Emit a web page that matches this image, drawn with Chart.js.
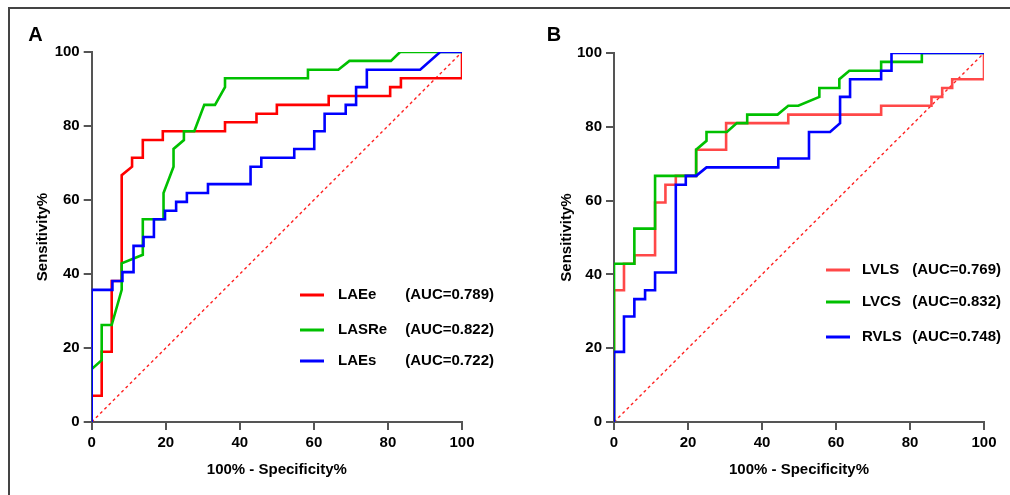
<!DOCTYPE html>
<html>
<head>
<meta charset="utf-8">
<script src="https://cdn.jsdelivr.net/npm/chart.js@4.4.1/dist/chart.umd.min.js"></script>
<style>
  body { margin: 0; background: #fff; width: 1010px; height: 495px; overflow: hidden; position: relative; }
  .frame { position: absolute; left: 8px; top: 7px; width: 1100px; height: 600px; border-top: 2px solid #444; border-left: 2px solid #444; }
  canvas { position: absolute; top: 0; }
</style>
</head>
<body>
<div class="frame"></div>
<canvas id="rocA" width="505" height="495" style="left:0"></canvas>
<canvas id="rocB" width="505" height="495" style="left:505px"></canvas>
<script>
// Panel A: left atrial markers
const laeeX  = [0, 0, 2.7, 2.7, 5.4, 5.4, 8.1, 8.1, 10.9, 10.9, 13.8, 13.8, 19.2, 19.2, 36.0, 36.0, 44.5, 44.5, 50.0, 50.0, 64.0, 64.0, 80.6, 80.6, 83.5, 83.5, 100, 100];
const laeeY  = [0, 7.1, 7.1, 19.0, 19.0, 38.1, 38.1, 66.7, 69.0, 71.4, 71.4, 76.2, 76.2, 78.6, 78.6, 81.0, 81.0, 83.3, 83.3, 85.7, 85.7, 88.1, 88.1, 90.5, 90.5, 92.9, 92.9, 100];
const lasreX = [0, 0, 2.7, 2.7, 5.4, 8.1, 8.1, 13.8, 13.8, 19.4, 19.4, 22.1, 22.1, 24.9, 24.9, 27.7, 30.4, 33.3, 36.0, 36.0, 58.4, 58.4, 66.6, 69.6, 80.8, 83.3, 100];
const lasreY = [0, 14.3, 16.7, 26.2, 26.2, 35.7, 42.9, 45.2, 54.8, 54.8, 61.9, 69.0, 73.8, 76.2, 78.6, 78.6, 85.7, 85.7, 90.5, 92.9, 92.9, 95.2, 95.2, 97.6, 97.6, 100, 100];
const laesX  = [0, 0, 5.6, 5.6, 8.3, 8.3, 11.3, 11.3, 14.0, 14.0, 16.8, 16.8, 19.8, 19.8, 22.8, 22.8, 25.7, 25.7, 31.4, 31.4, 42.9, 42.9, 45.8, 45.8, 54.7, 54.7, 60.1, 60.1, 62.9, 62.9, 68.6, 68.6, 71.4, 71.4, 74.3, 74.3, 88.7, 94.1, 100];
const laesY  = [0, 35.7, 35.7, 38.1, 38.1, 40.5, 40.5, 47.6, 47.6, 50.0, 50.0, 54.8, 54.8, 57.1, 57.1, 59.5, 59.5, 61.9, 61.9, 64.3, 64.3, 69.0, 69.0, 71.4, 71.4, 73.8, 73.8, 78.6, 78.6, 83.3, 83.3, 85.7, 85.7, 90.5, 90.5, 95.2, 95.2, 100, 100];

// Panel B: ventricular strain
const lvlsX = [0, 0, 2.7, 2.7, 5.5, 5.5, 11.1, 11.1, 13.9, 13.9, 16.7, 16.7, 22.2, 22.2, 30.3, 30.3, 47.1, 47.1, 72.2, 72.2, 85.8, 85.8, 88.7, 88.7, 91.4, 91.4, 100, 100];
const lvlsY = [0, 35.7, 35.7, 42.9, 42.9, 45.2, 45.2, 59.5, 59.5, 64.3, 64.3, 66.7, 66.7, 73.8, 73.8, 81.0, 81.0, 83.3, 83.3, 85.7, 85.7, 88.1, 88.1, 90.5, 90.5, 92.9, 92.9, 100];
const lvcsX = [0, 0, 5.5, 5.5, 11.1, 11.1, 22.2, 22.2, 25.0, 25.0, 30.5, 33.2, 36.0, 36.0, 44.2, 47.1, 49.8, 55.5, 55.5, 60.9, 60.9, 63.6, 72.2, 72.2, 83.2, 83.2, 100];
const lvcsY = [0, 42.9, 42.9, 52.4, 52.4, 66.7, 66.7, 73.8, 76.2, 78.6, 78.6, 81.0, 81.0, 83.3, 83.3, 85.7, 85.7, 88.1, 90.5, 90.5, 92.9, 95.2, 95.2, 97.6, 97.6, 100, 100];
const rvlsX = [0, 0, 2.7, 2.7, 5.5, 5.5, 8.4, 8.4, 11.1, 11.1, 16.7, 16.7, 19.4, 19.4, 22.2, 25.0, 44.4, 44.4, 52.7, 52.7, 58.4, 61.1, 61.1, 63.8, 63.8, 72.2, 72.2, 75.0, 75.0, 100];
const rvlsY = [0, 19.0, 19.0, 28.6, 28.6, 33.3, 33.3, 35.7, 35.7, 40.5, 40.5, 64.3, 64.3, 66.7, 66.7, 69.0, 69.0, 71.4, 71.4, 78.6, 78.6, 81.0, 88.1, 88.1, 92.9, 92.9, 95.2, 95.2, 100, 100];

const refX = [0, 100];
const refY = [0, 100];

const namesA = ["LAEe", "LASRe", "LAEs"];
const aucA = [0.789, 0.822, 0.722];
const namesB = ["LVLS", "LVCS", "RVLS"];
const aucB = [0.769, 0.832, 0.748];
const axisTicks = [0, 20, 40, 60, 80, 100];

const FONT = '"Liberation Sans", Arial, sans-serif';

function pts(xs, ys) {
  return xs.map((x, i) => ({ x: x, y: ys[i] }));
}

const overlay = {
  id: "overlay",
  afterDraw(chart, args, o) {
    const ctx = chart.ctx;
    ctx.save();
    ctx.fillStyle = "#000";
    ctx.textBaseline = "middle";
    ctx.textAlign = "center";
    ctx.font = "bold 20px " + FONT;
    ctx.fillText(o.letter, o.letterX, 35);
    ctx.font = "bold 15px " + FONT;
    o.names.forEach((name, i) => {
      const y = o.rows[i];
      ctx.strokeStyle = o.colors[i];
      ctx.lineWidth = 3;
      ctx.beginPath();
      ctx.moveTo(o.lineX, y);
      ctx.lineTo(o.lineX + 24, y);
      ctx.stroke();
      ctx.textAlign = "left";
      ctx.fillText(name, o.nameX, y);
      ctx.textAlign = "right";
      ctx.fillText("(AUC=" + o.auc[i].toFixed(3) + ")", o.aucRight, y);
    });
    ctx.restore();
  }
};

function axis(title, fitKey, fitVal) {
  return {
    type: "linear",
    min: 0,
    max: 100,
    afterBuildTicks: s => { s.ticks = axisTicks.map(v => ({ value: v })); },
    afterFit: s => { s[fitKey] = fitVal; },
    grid: { display: true, drawOnChartArea: false, drawTicks: true, tickLength: 8, color: "#555", lineWidth: 2 },
    border: { display: true, color: "#555", width: 2 },
    ticks: { color: "#000", padding: 4, font: { family: FONT, size: 15, weight: "bold" } },
    title: { display: true, text: title, color: "#000", padding: { top: 4, bottom: 4 }, font: { family: FONT, size: 15, weight: "bold" } }
  };
}

function makeChart(id, series, colors, cfg) {
  const datasets = series.map((s, i) => ({
    label: s.name,
    data: pts(s.x, s.y),
    borderColor: colors[i],
    borderWidth: 2.6,
    showLine: true,
    pointRadius: 0,
    tension: 0,
    order: 3 - i
  }));
  datasets.push({
    label: "reference",
    data: pts(refX, refY),
    borderColor: "#ff2020",
    borderWidth: 1.4,
    borderDash: [3, 3],
    showLine: true,
    pointRadius: 0,
    order: 5
  });
  new Chart(document.getElementById(id), {
    type: "scatter",
    data: { datasets: datasets },
    options: {
      responsive: false,
      animation: false,
      layout: { padding: cfg.padding },
      plugins: {
        legend: { display: false },
        tooltip: { enabled: false },
        overlay: {
          letter: cfg.letter, letterX: cfg.letterX,
          names: series.map(s => s.name), auc: cfg.auc, colors: colors,
          rows: cfg.rows, lineX: cfg.lineX, nameX: cfg.nameX, aucRight: cfg.aucRight
        }
      },
      scales: {
        x: axis("100% - Specificity%", "height", 61),
        y: axis("Sensitivity%", "width", cfg.yWidth)
      }
    },
    plugins: [overlay]
  });
}

makeChart("rocA",
  [
    { name: namesA[0], x: laeeX, y: laeeY },
    { name: namesA[1], x: lasreX, y: lasreY },
    { name: namesA[2], x: laesX, y: laesY }
  ],
  ["#ff0000", "#00c000", "#0000ff"],
  {
    padding: { left: 30, right: 43, top: 52, bottom: 12 },
    yWidth: 61.7,
    letter: "A", letterX: 35.5,
    auc: aucA, rows: [295, 330, 361], lineX: 300, nameX: 338, aucRight: 494
  });

makeChart("rocB",
  [
    { name: namesB[0], x: lvlsX, y: lvlsY },
    { name: namesB[1], x: lvcsX, y: lvcsY },
    { name: namesB[2], x: rvlsX, y: rvlsY }
  ],
  ["#ff4848", "#00c000", "#0000ff"],
  {
    padding: { left: 49, right: 26, top: 53, bottom: 12 },
    yWidth: 60,
    letter: "B", letterX: 49,
    auc: aucB, rows: [270, 302, 337], lineX: 321, nameX: 357, aucRight: 496
  });
</script>
</body>
</html>
